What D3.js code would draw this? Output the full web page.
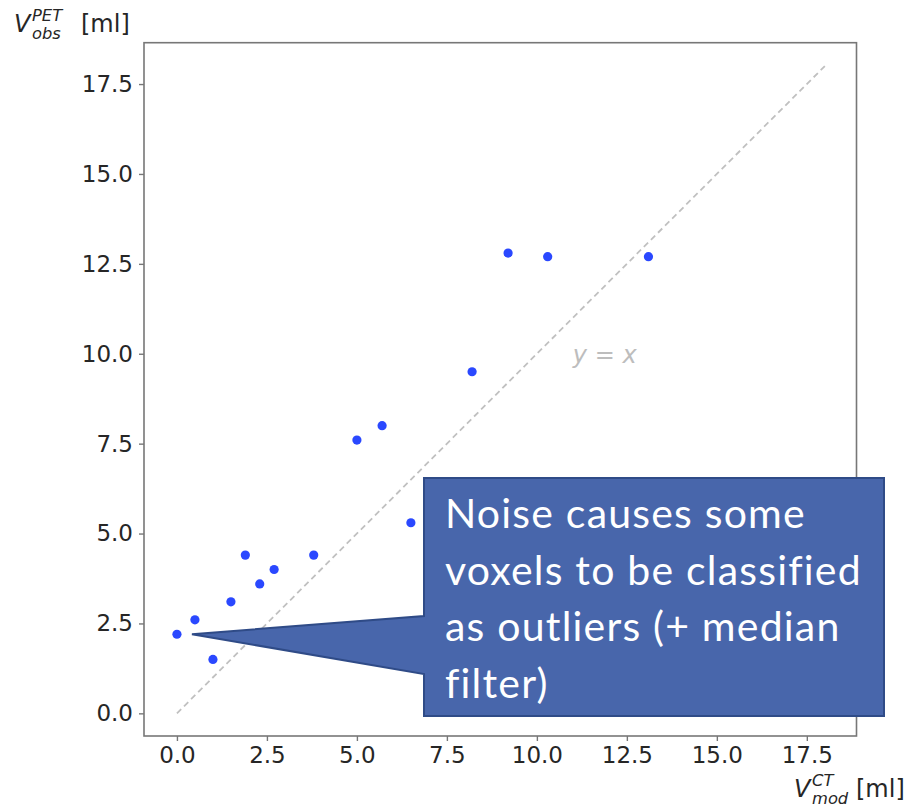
<!DOCTYPE html>
<html>
<head>
<meta charset="utf-8">
<script src="https://cdn.jsdelivr.net/npm/d3@7"></script>
<style>
  html, body { margin: 0; padding: 0; background: #fff; }
  svg { display: block; }
</style>
</head>
<body>
<div id="chart"></div>
<script>
// ---- data ----
const xValues = [0.0, 0.5, 1.0, 1.5, 1.9, 2.3, 2.7, 3.8, 5.0, 5.7, 6.5, 8.2, 9.2, 10.3, 13.1];
const yValues = [2.2, 2.6, 1.5, 3.1, 4.4, 3.6, 4.0, 4.4, 7.6, 8.0, 5.3, 9.5, 12.8, 12.7, 12.7];
const tickValues = [0.0, 2.5, 5.0, 7.5, 10.0, 12.5, 15.0, 17.5];
const identityLine = [0, 18];
const identityLabel = "y = x";
const calloutLines = ["Noise causes some", "voxels to be classified", "as outliers (+ median", "filter)"];

const W = 922, H = 808;
const svg = d3.select("#chart").append("svg").attr("width", W).attr("height", H);

const x = d3.scaleLinear().domain([-0.915, 18.88]).range([144, 856.5]);
const y = d3.scaleLinear().domain([-0.63, 18.65]).range([736, 42.7]);

const tickFont = "DejaVu Sans, sans-serif";

// frame
svg.append("rect")
  .attr("x", x.range()[0]).attr("y", y.range()[1])
  .attr("width", x.range()[1] - x.range()[0])
  .attr("height", y.range()[0] - y.range()[1])
  .attr("fill", "none").attr("stroke", "#777").attr("stroke-width", 1.6);

// axes
const xAxis = svg.append("g").attr("transform", `translate(0,${y.range()[0]})`)
  .call(d3.axisBottom(x).tickValues(tickValues).tickFormat(d3.format(".1f")).tickSize(5).tickPadding(6));
const yAxis = svg.append("g").attr("transform", `translate(${x.range()[0]},0)`)
  .call(d3.axisLeft(y).tickValues(tickValues).tickFormat(d3.format(".1f")).tickSize(5).tickPadding(6));
[xAxis, yAxis].forEach(g => {
  g.select(".domain").remove();
  g.selectAll(".tick line").attr("stroke", "#777").attr("stroke-width", 1.4);
  g.selectAll(".tick text").attr("fill", "#262626").style("font-family", tickFont).style("font-size", "23px");
});

// identity dashed line
svg.append("line")
  .attr("x1", x(identityLine[0])).attr("y1", y(identityLine[0]))
  .attr("x2", x(identityLine[1])).attr("y2", y(identityLine[1]))
  .attr("stroke", "#c0c0c0").attr("stroke-width", 1.8).attr("stroke-dasharray", "6,4");

svg.append("text")
  .attr("x", x(11.0)).attr("y", y(9.75))
  .attr("fill", "#bdbdbd")
  .style("font-family", tickFont).style("font-size", "24px").style("font-style", "italic")
  .text(identityLabel);

// points
const pts = xValues.map((v, i) => ({ x: v, y: yValues[i] }));
svg.append("g").selectAll("circle").data(pts).join("circle")
  .attr("cx", d => x(d.x)).attr("cy", d => y(d.y)).attr("r", 4.6)
  .attr("fill", "#2a48ff");

// axis labels
function mathLabel(g, main, sup, sub, unit, size) {
  g.append("text").attr("x", 0).attr("y", 0).style("font-family", tickFont)
    .style("font-size", size + "px").style("font-style", "italic").attr("fill", "#262626").text(main);
  g.append("text").attr("x", size * 0.75).attr("y", -size * 0.45).style("font-family", tickFont)
    .style("font-size", (size * 0.68) + "px").style("font-style", "italic").attr("fill", "#262626").text(sup);
  g.append("text").attr("x", size * 0.75).attr("y", size * 0.28).style("font-family", tickFont)
    .style("font-size", (size * 0.68) + "px").style("font-style", "italic").attr("fill", "#262626").text(sub);
  g.append("text").attr("x", unit).attr("y", 0).style("font-family", tickFont)
    .style("font-size", size + "px").attr("fill", "#262626").text("[ml]");
}
mathLabel(svg.append("g").attr("transform", "translate(14,32)"), "V", "PET", "obs", 67, 24);
mathLabel(svg.append("g").attr("transform", "translate(794,797)"), "V", "CT", "mod", 62, 24);

// callout
const bx0 = 424, by0 = 478, bx1 = 884, by1 = 716;
const tipX = x(xValues[0]) + 15, tipY = y(yValues[0]);
const attachTop = 616, attachBot = 674;
const callout = svg.append("g");
callout.append("path")
  .attr("d", `M${bx0},${by0} L${bx1},${by0} L${bx1},${by1} L${bx0},${by1} L${bx0},${attachBot} L${tipX},${tipY} L${bx0},${attachTop} Z`)
  .attr("fill", "#4866ab").attr("stroke", "#2f4b87").attr("stroke-width", 2).attr("stroke-linejoin", "miter");
const ct = callout.append("text").attr("fill", "#fff")
  .style("font-family", "Lato, 'Open Sans', sans-serif").style("font-size", "41px")
  .style("letter-spacing", "1.2px");
calloutLines.forEach((l, i) => {
  ct.append("tspan").attr("x", 445).attr("y", 528 + i * 56.5).text(l);
});
</script>
</body>
</html>
